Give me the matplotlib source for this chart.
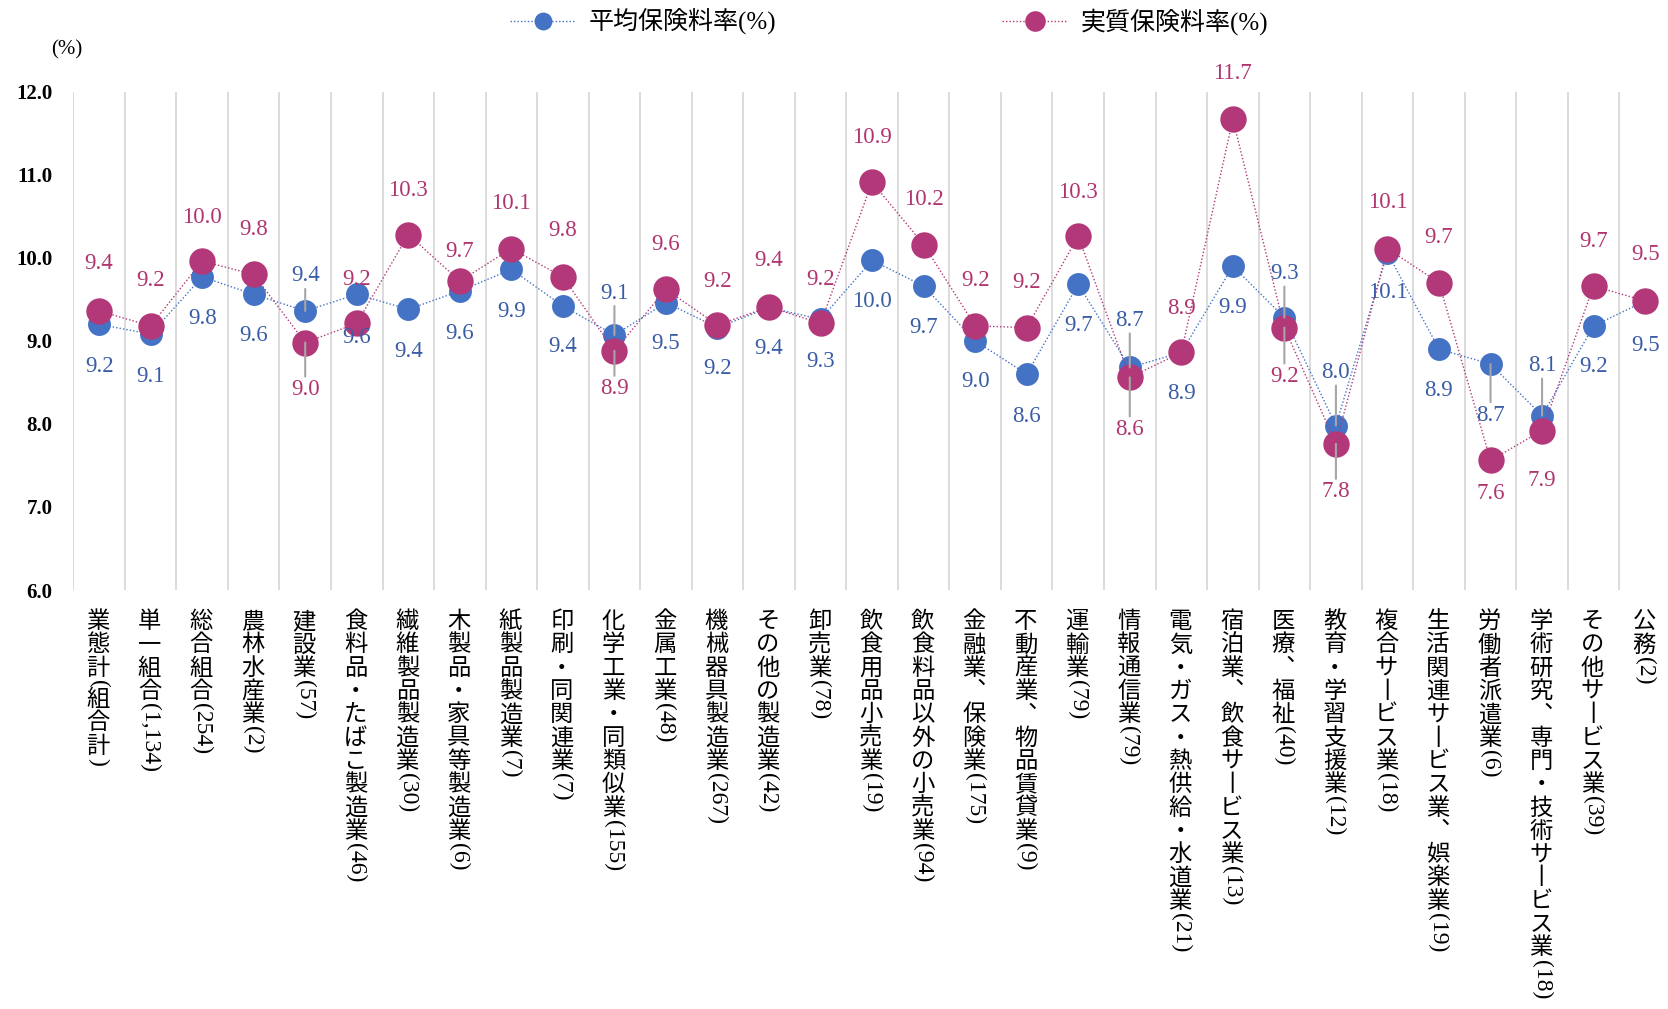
import numpy as np
import matplotlib
matplotlib.use("Agg")
import matplotlib.pyplot as plt

plt.rcParams['font.family'] = ['Liberation Serif', 'Noto Sans CJK JP', 'DejaVu Sans']

categories = ["業態計(組合計)", "単一組合(1,134)", "総合組合(254)", "農林水産業(2)", "建設業(57)",
              "食料品・たばこ製造業(46)", "繊維製品製造業(30)", "木製品・家具等製造業(6)", "紙製品製造業(7)",
              "印刷・同関連業(7)", "化学工業・同類似業(155)", "金属工業(48)", "機械器具製造業(267)",
              "その他の製造業(42)", "卸売業(78)", "飲食用品小売業(19)", "飲食料品以外の小売業(94)",
              "金融業、 保険業(175)", "不動産業、 物品賃貸業(9)", "運輸業(79)", "情報通信業(79)",
              "電気・ガス・熱供給・水道業(21)", "宿泊業、 飲食サービス業(13)", "医療、 福祉(40)",
              "教育・学習支援業(12)", "複合サービス業(18)", "生活関連サービス業、 娯楽業(19)",
              "労働者派遣業(6)", "学術研究、 専門・技術サービス業(18)", "その他サービス業(39)", "公務(2)"]

avg_rate = [9.20, 9.08, 9.77, 9.56, 9.36, 9.56, 9.38, 9.60, 9.86, 9.42, 9.07, 9.46, 9.16, 9.40, 9.26,
            9.97, 9.66, 9.00, 8.60, 9.68, 8.68, 8.86, 9.90, 9.28, 7.98, 10.06, 8.90, 8.72, 8.10, 9.18, 9.48]
real_rate = [9.36, 9.18, 9.96, 9.80, 8.98, 9.21, 10.28, 9.72, 10.11, 9.77, 8.88, 9.62, 9.19, 9.41, 9.21,
             10.91, 10.16, 9.18, 9.16, 10.26, 8.56, 8.86, 11.67, 9.16, 7.76, 10.11, 9.70, 7.56, 7.92, 9.66, 9.48]

# label offsets in pixels (+ above, - below)
avg_off = [-42, -42, -42, -41, 35, -43, -42, -42, -42, -41, 42, -41, -41, -41, -42, -41, -41, -41, -42,
           -41, 47, -41, -41, 44, 53, -40, -41, -51, 50, -41, -45]
real_off = [47, 45, 44, 45, -47, 44, 44, 30, 45, 46, -38, 45, 44, 46, 44, 45, 45, 45, 45, 44, -52, 44,
            46, -49, -48, 46, 45, -33, -50, 45, 46]
avg_leader = [4, 10, 20, 23, 24, 27, 28]
real_leader = [4, 10, 20, 23, 24]

blue = "#4472C4"
red = "#B2387A"
blue_txt = "#3A5DA6"
red_txt = "#B0356F"

fig = plt.figure(figsize=(16.68, 10.09), dpi=100)
W, H = 1668, 1009
ax_left, ax_right, ax_top, ax_bot = 73.3, 1670.9, 91.7, 590
ax = fig.add_axes([ax_left / W, 1 - ax_bot / H, (ax_right - ax_left) / W, (ax_bot - ax_top) / H])

x = np.arange(len(categories))
ax.plot(x, avg_rate, linestyle=(0, (1, 1.5)), lw=1, color=blue, marker='o', ms=16.5,
        mec='none', label="平均保険料率(%)", zorder=3)
ax.plot(x, real_rate, linestyle=(0, (1, 1.5)), lw=1, color=red, marker='o', ms=19,
        mec='none', label="実質保険料率(%)", zorder=4)

ax.set_xlim(-0.5, len(categories) - 0.5)
ax.set_ylim(6, 12)
ax.set_xticks(x - 0.5, minor=True)
ax.set_xticks([])
ax.grid(which='minor', axis='x', color='#D9D9D9', lw=1.3)
ax.tick_params(axis='x', which='both', length=0, labelbottom=False)
ax.set_yticks(np.arange(6, 12.1, 1))
ax.set_yticklabels([f"{v:.1f}" for v in np.arange(6, 12.1, 1)], fontsize=15, fontweight='bold')
ax.tick_params(axis='y', length=0, pad=15)
for s in ax.spines.values():
    s.set_visible(False)

fig.text(66.7 / W, 1 - 50 / H, "(%)", ha='center', va='center', fontsize=15)

# data labels
for vals, offs, col, leaders in [(avg_rate, avg_off, blue_txt, avg_leader),
                                 (real_rate, real_off, red_txt, real_leader)]:
    for i, (v, o) in enumerate(zip(vals, offs)):
        ax.annotate(f"{v:.1f}", (i, v), xytext=(0, o), textcoords='offset pixels',
                    ha='center', va='center', fontsize=16.5, color=col, zorder=6)
        if i in leaders:
            sgn = 1 if o > 0 else -1
            ax.annotate("", (i, v), xytext=(0, o - sgn * 13), textcoords='offset pixels',
                        arrowprops=dict(arrowstyle='-', color='#A6A6A6', lw=1.5, shrinkA=0, shrinkB=0),
                        zorder=5)

# vertical category labels
renderer = fig.canvas.get_renderer()
em = 23.3
subs = {"、": "︑", "ー": "丨"}


def runs_of(text):
    out = []
    for ch in text:
        if ch == " ":
            continue
        kind = 'lat' if ord(ch) < 128 else 'cjk'
        if out and out[-1][0] == kind and kind == 'lat':
            out[-1][1] += ch
        else:
            out.append([kind, subs.get(ch, ch)])
    return out


for i, name in enumerate(categories):
    cursor = 20
    for kind, s in runs_of(name):
        if kind == 'cjk':
            ax.annotate(s, xy=(i, 0), xycoords=('data', 'axes fraction'),
                        xytext=(-1, -(cursor + em / 2)), textcoords='offset pixels',
                        ha='center', va='center', fontsize=16.8, family=['Noto Sans CJK JP'],
                        annotation_clip=False)
            cursor += em
        else:
            t = ax.annotate(s, xy=(i, 0), xycoords=('data', 'axes fraction'),
                            xytext=(0, 0), textcoords='offset pixels', rotation=270,
                            ha='center', va='center', fontsize=17, annotation_clip=False)
            h = t.get_window_extent(renderer).height
            t.xyann = (-1, -(cursor + h / 2))
            cursor += h

fig.legend(loc='center', bbox_to_anchor=(0.533, 1 - 21.7 / H), ncol=2, frameon=False,
           handlelength=2.65, handletextpad=0.5, columnspacing=9, markerscale=0.78,
           prop={'size': 18})

fig.savefig("out.png", dpi=100)
